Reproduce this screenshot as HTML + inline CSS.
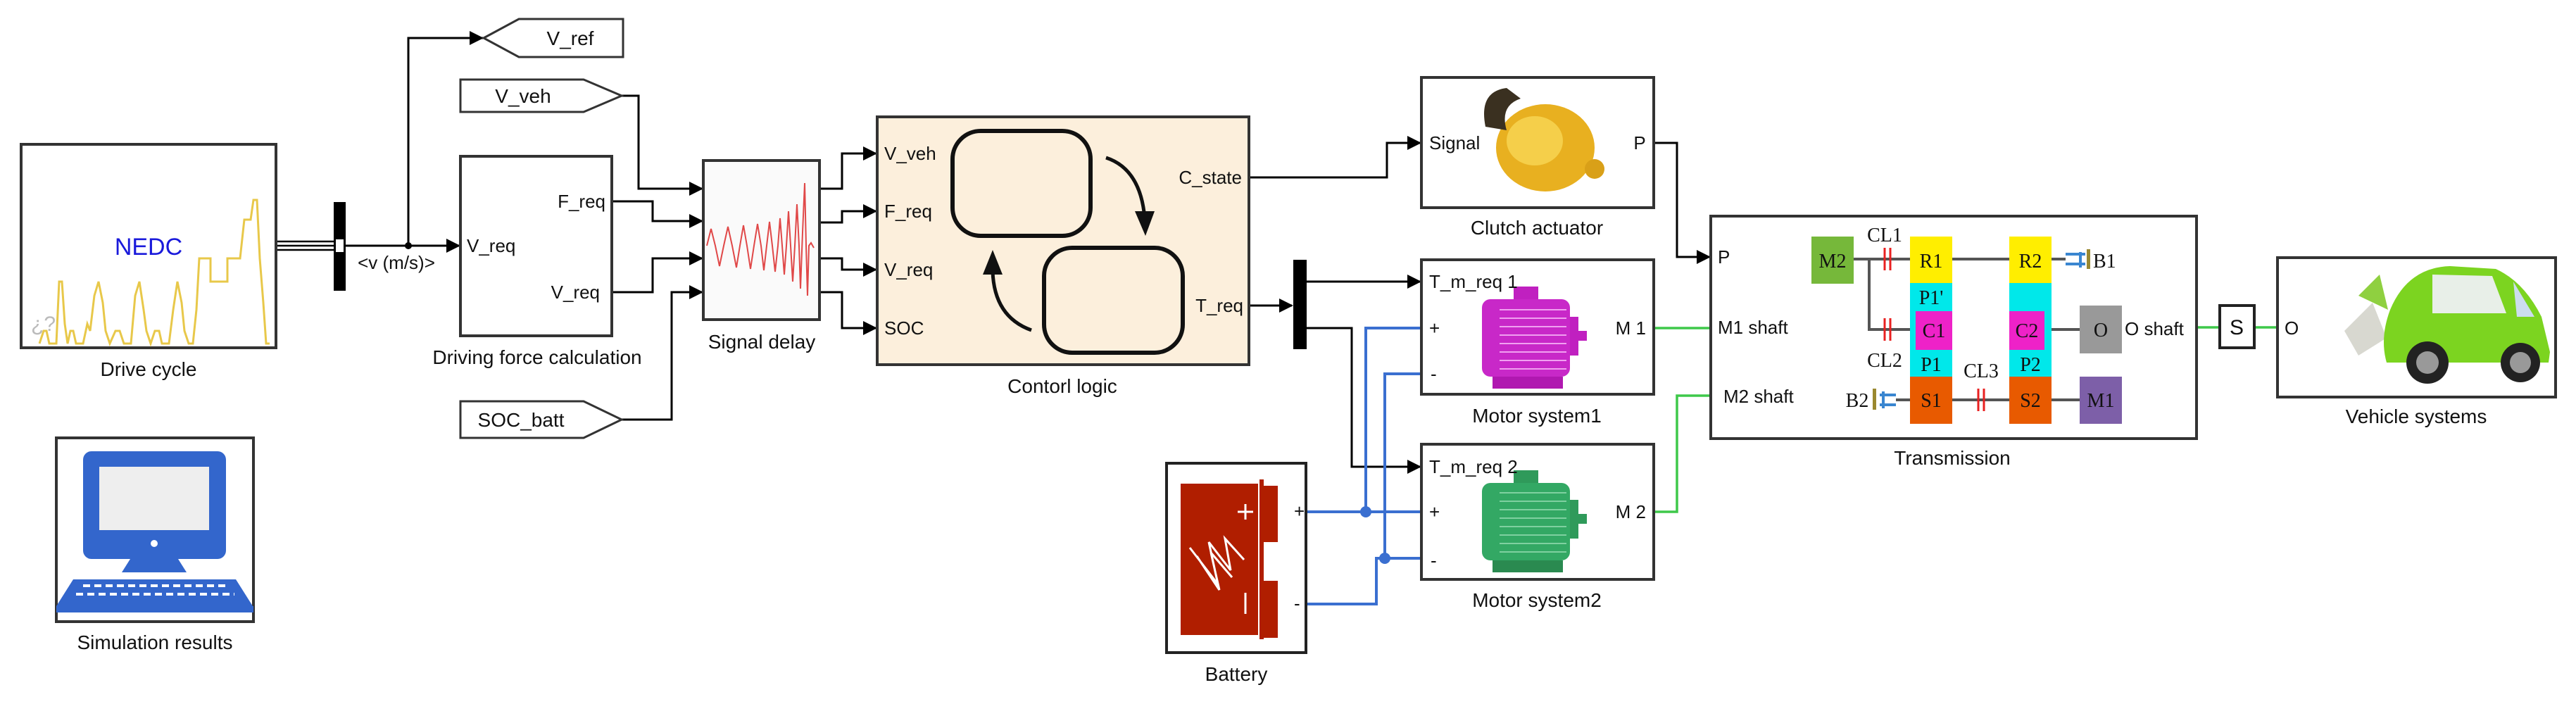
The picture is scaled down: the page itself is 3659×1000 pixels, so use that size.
<!DOCTYPE html>
<html><head><meta charset="utf-8"><style>
html,body{margin:0;padding:0;background:#fff;}
svg{display:block;}
text{font-family:"Liberation Sans",sans-serif;fill:#111;}
.lbl{font-size:28px;}
.pt{font-size:26px;}
.ser{font-family:"Liberation Serif",serif;font-size:28px;}
</style></head><body>
<svg width="3659" height="1000" viewBox="0 0 3659 1000" xmlns="http://www.w3.org/2000/svg">
<defs>
<marker id="ar" markerWidth="10" markerHeight="10" refX="9" refY="5" orient="auto" markerUnits="userSpaceOnUse" viewBox="0 0 10 10">
<path d="M0,0 L10,5 L0,10 z" fill="#000"/></marker>
</defs>
<g fill="none" stroke="#000" stroke-width="3">
<!-- wires -->
<path d="M392,343 H474 M392,349 H474 M392,355 H474" stroke-width="2.5"/>
<path d="M491,349 H652" marker-end="url(#bar)"/>
<path d="M580,349 V54 H686"/>
<path d="M883,136 H907 V268 H997"/>
<path d="M869,286 H927 V314 H997"/>
<path d="M869,415 H927 V367 H997"/>
<path d="M883,596 H954 V415 H997"/>
<path d="M1164,268 H1196 V218 H1244"/>
<path d="M1164,316 H1196 V300 H1244"/>
<path d="M1164,367 H1196 V383 H1244"/>
<path d="M1164,415 H1196 V466 H1244"/>
<path d="M1774,252 H1970 V203 H2017"/>
<path d="M2349,203 H2382 V365 H2428"/>
<path d="M1774,434 H1835"/>
<path d="M1856,400 H2017"/>
<path d="M1856,466 H1920 V663 H2017"/>
</g>
<!-- arrowheads -->
<g fill="#000">
<path d="M634,339 l20,10 l-20,10z"/>
<path d="M667,44 l20,10 l-20,10z"/>
<path d="M979,258 l20,10 l-20,10z"/>
<path d="M979,304 l20,10 l-20,10z"/>
<path d="M979,357 l20,10 l-20,10z"/>
<path d="M979,405 l20,10 l-20,10z"/>
<path d="M1226,208 l20,10 l-20,10z"/>
<path d="M1226,290 l20,10 l-20,10z"/>
<path d="M1226,373 l20,10 l-20,10z"/>
<path d="M1226,456 l20,10 l-20,10z"/>
<path d="M1999,193 l20,10 l-20,10z"/>
<path d="M2410,355 l20,10 l-20,10z"/>
<path d="M1817,424 l20,10 l-20,10z"/>
<path d="M1999,390 l20,10 l-20,10z"/>
<path d="M1999,653 l20,10 l-20,10z"/>
<circle cx="580" cy="349" r="5"/>
</g>
<!-- blue wires -->
<g fill="none" stroke="#3a6fd0" stroke-width="4">
<path d="M1854,727 H2018"/>
<path d="M1940,727 V466 H2018"/>
<path d="M1967,793 V531 H2018"/>
<path d="M1854,858 H1955 V793 H2018"/>
</g>
<circle cx="1940" cy="727" r="8" fill="#3a6fd0"/>
<circle cx="1967" cy="793" r="8" fill="#3a6fd0"/>
<!-- green wires -->
<g fill="none" stroke="#3ec84a" stroke-width="3.5">
<path d="M2349,466 H2430"/>
<path d="M2349,727 H2382 V562 H2430"/>
<path d="M3120,465 H3153"/>
<path d="M3202,465 H3235"/>
</g>

<!-- Drive cycle -->
<rect x="30" y="205" width="362" height="289" fill="#fff" stroke="#333" stroke-width="4"/>
<text x="211" y="362" font-size="34" fill="#1a1adb" text-anchor="middle" style="fill:#1a1adb">NEDC</text>
<polyline fill="none" stroke="#e8c84a" stroke-width="3" points="56,488 62,470 66,470 70,488 80,488 84,400 88,400 92,460 96,488 100,470 104,470 108,488 118,488 124,460 128,470 134,420 140,400 146,430 150,470 156,488 164,470 170,470 176,488 186,488 192,420 198,400 204,440 208,470 214,488 220,470 226,470 230,488 240,488 246,440 252,400 258,430 262,470 268,488 274,488 279,440 283,367 299,367 299,400 323,400 323,367 341,367 347,312 356,312 360,284 365,284 369,367 374,430 378,488 383,488"/>
<text x="44" y="470" font-size="30" fill="#bbb" style="fill:#bbb">¿?</text>
<text class="lbl" x="211" y="534" text-anchor="middle">Drive cycle</text>

<!-- Sim results -->
<rect x="80" y="622" width="280" height="261" fill="#fff" stroke="#333" stroke-width="4"/>
<rect x="118" y="641" width="203" height="153" rx="12" fill="#3366cc"/>
<rect x="141" y="663" width="156" height="90" fill="#eee"/>
<circle cx="219" cy="772" r="5" fill="#fff"/>
<path d="M185,794 H253 L265,813 H173 Z" fill="#3366cc"/>
<path d="M104,823 H335 L359,861 H80 Z" fill="#3366cc"/>
<path d="M118,832 H325 M108,844 H333" stroke="#fff" stroke-width="4" stroke-dasharray="10,6"/>
<rect x="80" y="861" width="280" height="9" fill="#3366cc"/>
<text class="lbl" x="220" y="922" text-anchor="middle">Simulation results</text>

<!-- mux -->
<rect x="474" y="287" width="17" height="126" fill="#000"/>
<rect x="477" y="340" width="11" height="18" fill="#fff"/>
<text class="pt" x="563" y="382" text-anchor="middle" font-size="24">&lt;v (m/s)&gt;</text>

<!-- V_ref goto -->
<path d="M687,54 L737,27 H885 V81 H737 Z" fill="#fff" stroke="#333" stroke-width="3"/>
<text class="lbl" x="810" y="64" text-anchor="middle">V_ref</text>
<!-- V_veh from -->
<path d="M654,113 H829 L883,136 L829,159 H654 Z" fill="#fff" stroke="#333" stroke-width="3"/>
<text class="lbl" x="743" y="146" text-anchor="middle">V_veh</text>
<!-- SOC_batt -->
<path d="M654,570 H829 L883,596 L829,622 H654 Z" fill="#fff" stroke="#333" stroke-width="3"/>
<text class="lbl" x="740" y="606" text-anchor="middle">SOC_batt</text>

<!-- DFC -->
<rect x="654" y="222" width="215" height="255" fill="#fff" stroke="#333" stroke-width="4"/>
<text class="pt" x="663" y="358">V_req</text>
<text class="pt" x="860" y="295" text-anchor="end">F_req</text>
<text class="pt" x="852" y="424" text-anchor="end">V_req</text>
<text class="lbl" x="763" y="517" text-anchor="middle">Driving force calculation</text>

<!-- Signal delay -->
<rect x="999" y="228" width="165" height="226" fill="#fafafa" stroke="#333" stroke-width="4"/>
<polyline fill="none" stroke="#e04848" stroke-width="2" points="1004,349 1010,325 1016,349 1022,378 1028,349 1034,322 1040,349 1046,380 1051,349 1056,320 1061,349 1066,382 1071,349 1076,318 1081,349 1085,384 1089,349 1093,315 1097,349 1101,386 1105,349 1108,310 1111,349 1114,390 1117,349 1120,300 1123,349 1126,400 1129,349 1132,290 1135,349 1137,410 1140,330 1143,260 1145,349 1147,420 1149,349 1152,345 1156,352"/>
<text class="lbl" x="1082" y="495" text-anchor="middle">Signal delay</text>

<!-- Control logic -->
<rect x="1246" y="166" width="528" height="352" fill="#fcefdc" stroke="#333" stroke-width="4"/>
<rect x="1353" y="186" width="196" height="149" rx="40" fill="none" stroke="#111" stroke-width="6"/>
<rect x="1483" y="352" width="197" height="149" rx="40" fill="none" stroke="#111" stroke-width="6"/>
<path d="M1571,224 Q1620,240 1626,310" fill="none" stroke="#111" stroke-width="5"/>
<path d="M1612,300 L1640,300 L1627,335 Z" fill="#111"/>
<path d="M1465,469 Q1412,450 1410,385" fill="none" stroke="#111" stroke-width="5"/>
<path d="M1396,390 L1424,390 L1410,355 Z" fill="#111"/>
<text class="pt" x="1256" y="227">V_veh</text>
<text class="pt" x="1256" y="309">F_req</text>
<text class="pt" x="1256" y="392">V_req</text>
<text class="pt" x="1256" y="475">SOC</text>
<text class="pt" x="1764" y="261" text-anchor="end">C_state</text>
<text class="pt" x="1766" y="443" text-anchor="end">T_req</text>
<text class="lbl" x="1509" y="558" text-anchor="middle">Contorl logic</text>

<!-- T_req mux -->
<rect x="1837" y="369" width="19" height="127" fill="#000"/>

<!-- Clutch actuator -->
<rect x="2019" y="110" width="330" height="185" fill="#fff" stroke="#333" stroke-width="4"/>
<ellipse cx="2195" cy="210" rx="70" ry="62" fill="#e8b020"/>
<ellipse cx="2180" cy="200" rx="40" ry="35" fill="#f5cf4a"/>
<path d="M2110,180 Q2100,130 2140,125 L2160,140 Q2130,150 2140,185 Z" fill="#3a3020"/>
<circle cx="2265" cy="240" r="14" fill="#d9a018"/>
<text class="pt" x="2030" y="212">Signal</text>
<text class="pt" x="2329" y="212" text-anchor="middle">P</text>
<text class="lbl" x="2183" y="333" text-anchor="middle">Clutch actuator</text>

<!-- Motor system1 -->
<rect x="2019" y="369" width="330" height="191" fill="#fff" stroke="#333" stroke-width="4"/>
<rect x="2150" y="407" width="35" height="18" fill="#c020c0"/>
<rect x="2105" y="425" width="125" height="110" rx="12" fill="#c828c8"/>
<g stroke="#f0a0f0" stroke-width="2"><path d="M2130,440 H2225 M2130,452 H2225 M2130,464 H2225 M2130,476 H2225 M2130,488 H2225 M2130,500 H2225 M2130,512 H2225 M2130,524 H2225"/></g>
<rect x="2230" y="450" width="12" height="55" fill="#c020c0"/>
<rect x="2242" y="470" width="12" height="14" fill="#c020c0"/>
<rect x="2120" y="535" width="100" height="17" fill="#b018b0"/>
<text class="pt" x="2030" y="409">T_m_req 1</text>
<text class="pt" x="2030" y="475">+</text>
<text class="pt" x="2032" y="540">-</text>
<text class="pt" x="2338" y="475" text-anchor="end">M  1</text>
<text class="lbl" x="2183" y="600" text-anchor="middle">Motor system1</text>

<!-- Motor system2 -->
<rect x="2019" y="631" width="330" height="192" fill="#fff" stroke="#333" stroke-width="4"/>
<rect x="2150" y="668" width="35" height="18" fill="#2f9a5a"/>
<rect x="2105" y="686" width="125" height="110" rx="12" fill="#33a864"/>
<g stroke="#7fd0a0" stroke-width="2"><path d="M2130,700 H2225 M2130,712 H2225 M2130,724 H2225 M2130,736 H2225 M2130,748 H2225 M2130,760 H2225 M2130,772 H2225 M2130,784 H2225"/></g>
<rect x="2230" y="710" width="12" height="55" fill="#2f9a5a"/>
<rect x="2242" y="730" width="12" height="14" fill="#2f9a5a"/>
<rect x="2120" y="796" width="100" height="17" fill="#2a8a50"/>
<text class="pt" x="2030" y="672">T_m_req 2</text>
<text class="pt" x="2030" y="736">+</text>
<text class="pt" x="2032" y="805">-</text>
<text class="pt" x="2338" y="736" text-anchor="end">M 2</text>
<text class="lbl" x="2183" y="862" text-anchor="middle">Motor system2</text>

<!-- Battery -->
<rect x="1657" y="658" width="198" height="269" fill="#fff" stroke="#222" stroke-width="4"/>
<rect x="1677" y="687" width="110" height="215" fill="#b01e00"/>
<path d="M1792,681 V908 M1792,693 H1812 V767 H1792 M1792,828 H1812 V903 H1792" fill="#b01e00" stroke="#b01e00" stroke-width="6"/>
<rect x="1797" y="693" width="15" height="74" fill="#b01e00"/>
<rect x="1797" y="828" width="15" height="75" fill="#b01e00"/>
<path d="M1758,727 H1780 M1769,716 V738 M1769,842 V872" stroke="#fff" stroke-width="3"/>
<path d="M1690,778 L1730,830 L1717,770 L1748,810 L1740,765 L1767,795 M1700,790 L1732,838 L1720,785 L1750,820" fill="none" stroke="#fff" stroke-width="3"/>
<text class="pt" x="1838" y="735">+</text>
<text class="pt" x="1838" y="866">-</text>
<text class="lbl" x="1756" y="967" text-anchor="middle">Battery</text>

<!-- Transmission -->
<rect x="2430" y="307" width="690" height="316" fill="#fff" stroke="#333" stroke-width="4"/>
<text class="pt" x="2440" y="374">P</text>
<text class="pt" x="2440" y="474">M1 shaft</text>
<text class="pt" x="2448" y="572">M2 shaft</text>
<text class="pt" x="3018" y="476">O shaft</text>
<g stroke="#555" stroke-width="4" fill="none">
<path d="M2633,368 H2713 M2655,368 V468 H2721 M2773,368 H2854 M2914,368 H2934 M2904,468 H2954 M2693,568 H2713 M2773,568 H2854 M2914,568 H2954"/>
</g>
<g stroke="#e82020" stroke-width="3"><path d="M2677,352 V384 M2685,352 V384 M2677,452 V484 M2685,452 V484 M2810,552 V584 M2818,552 V584"/></g>
<rect x="2573" y="336" width="60" height="67" fill="#76b83a"/>
<rect x="2713" y="336" width="60" height="66" fill="#ffee00"/>
<rect x="2713" y="402" width="60" height="133" fill="#00e8ea"/>
<rect x="2721" y="442" width="52" height="55" fill="#ee22c8"/>
<rect x="2713" y="535" width="60" height="67" fill="#e85a00"/>
<rect x="2854" y="336" width="60" height="66" fill="#ffee00"/>
<rect x="2854" y="402" width="60" height="133" fill="#00e8ea"/>
<rect x="2854" y="442" width="50" height="55" fill="#ee22c8"/>
<rect x="2854" y="535" width="60" height="67" fill="#e85a00"/>
<rect x="2954" y="434" width="60" height="68" fill="#999"/>
<rect x="2954" y="535" width="60" height="67" fill="#7d5fa8"/>
<path d="M2934,361 H2962 M2934,375 H2962 M2955,358 V380" stroke="#3a86d0" stroke-width="4"/>
<rect x="2964" y="354" width="5" height="28" fill="#9a8830"/>
<path d="M2693,561 H2670 M2693,575 H2670 M2675,556 V580" stroke="#3a86d0" stroke-width="4"/>
<rect x="2660" y="552" width="5" height="30" fill="#9a8830"/>
<g class="ser">
<text class="ser" x="2603" y="380" text-anchor="middle">M2</text>
<text class="ser" x="2743" y="380" text-anchor="middle">R1</text>
<text class="ser" x="2884" y="380" text-anchor="middle">R2</text>
<text class="ser" x="2743" y="432" text-anchor="middle">P1'</text>
<text class="ser" x="2747" y="479" text-anchor="middle">C1</text>
<text class="ser" x="2879" y="479" text-anchor="middle">C2</text>
<text class="ser" x="2984" y="478" text-anchor="middle">O</text>
<text class="ser" x="2743" y="527" text-anchor="middle">P1</text>
<text class="ser" x="2884" y="527" text-anchor="middle">P2</text>
<text class="ser" x="2743" y="578" text-anchor="middle">S1</text>
<text class="ser" x="2884" y="578" text-anchor="middle">S2</text>
<text class="ser" x="2984" y="578" text-anchor="middle">M1</text>
<text class="ser" x="2677" y="343" text-anchor="middle">CL1</text>
<text class="ser" x="2677" y="521" text-anchor="middle">CL2</text>
<text class="ser" x="2814" y="536" text-anchor="middle">CL3</text>
<text class="ser" x="2973" y="380">B1</text>
<text class="ser" x="2638" y="578" text-anchor="middle">B2</text>
</g>
<text class="lbl" x="2773" y="660" text-anchor="middle">Transmission</text>

<!-- S -->
<rect x="3153" y="434" width="49" height="60" fill="#fff" stroke="#222" stroke-width="4"/>
<text x="3177" y="475" font-size="30" text-anchor="middle">S</text>

<!-- Vehicle -->
<rect x="3235" y="366" width="395" height="198" fill="#fff" stroke="#333" stroke-width="4"/>
<text class="pt" x="3245" y="475">O</text>
<path d="M3350,420 L3380,390 L3392,440 Z" fill="#8fd040"/>
<path d="M3330,470 L3370,430 L3390,480 L3350,505 Z" fill="#d8d8d0"/>
<path d="M3395,440 Q3420,380 3480,378 L3545,382 Q3585,400 3610,450 L3622,500 L3620,515 H3390 Q3380,480 3395,440 Z" fill="#7cd420"/>
<path d="M3455,390 L3540,392 L3560,445 L3455,445 Z" fill="#e8efe8"/>
<path d="M3570,400 L3600,450 L3575,450 Z" fill="#cde"/>
<circle cx="3448" cy="515" r="30" fill="#222"/>
<circle cx="3448" cy="515" r="16" fill="#999"/>
<circle cx="3580" cy="515" r="28" fill="#222"/>
<circle cx="3580" cy="515" r="15" fill="#999"/>
<text class="lbl" x="3432" y="601" text-anchor="middle">Vehicle systems</text>
</svg>
</body></html>
